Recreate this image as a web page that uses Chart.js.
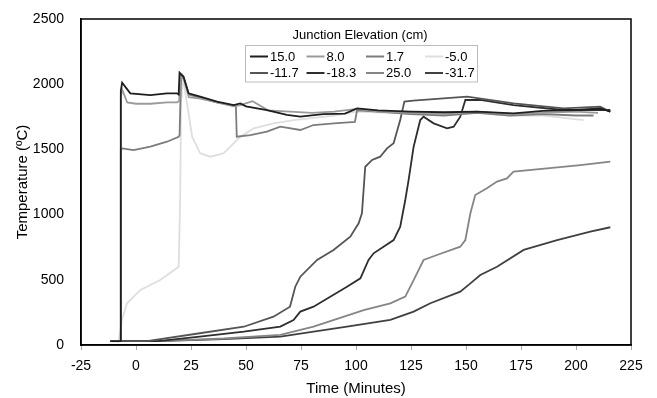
<!DOCTYPE html>
<html>
<head>
<meta charset="utf-8">
<script src="https://cdn.jsdelivr.net/npm/chart.js@4/dist/chart.umd.min.js"></script>
<style>
  html, body { margin: 0; padding: 0; background: #fff; }
  canvas { display: block; }
</style>
</head>
<body>
<canvas id="tempChart" width="657" height="398"></canvas>
<script>
// Junction labels (legend order) and line colours
const labels = ['15.0', '8.0', '1.7', '-5.0', '-11.7', '-18.3', '25.0', '-31.7'];
const colors = ['#1e1e1e', '#9a9a9a', '#7c7c7c', '#dedede', '#555555', '#2e2e2e', '#858585', '#404040'];

// Time (minutes) and temperature (C) for each junction
const t15 = [-11.7, -7.2, -6.9, -6.3, -2.6, 6.5, 14.1, 18.6, 19.4, 19.8, 21.6, 23.9, 29.2, 36.8, 44.4, 47.4, 50, 59.5, 68.6, 74.7, 85, 95, 100.5, 110, 125, 140, 155, 171.6, 185, 200, 211, 215.6];
const v15 = [30, 30, 1950, 2012, 1930, 1917, 1930, 1930, 1920, 2088, 2057, 1930, 1904, 1866, 1840, 1853, 1830, 1802, 1764, 1751, 1770, 1775, 1815, 1800, 1790, 1785, 1790, 1777, 1795, 1802, 1815, 1790];

const t8 = [-11.7, -7.2, -6.9, -6.3, -4, 0, 6.5, 14.1, 18.6, 19.6, 20.2, 21.8, 24, 29.2, 36.8, 44.4, 47.4, 53, 60, 70, 80, 90, 100.5, 110, 125, 140, 155, 170, 185, 200, 210];
const v8 = [30, 30, 1900, 1960, 1860, 1850, 1850, 1860, 1860, 1870, 2060, 2040, 1900, 1890, 1860, 1830, 1840, 1870, 1800, 1790, 1780, 1790, 1810, 1790, 1780, 1770, 1790, 1770, 1780, 1790, 1780];

const t1_7 = [-11.7, -7.2, -6.9, -6.3, -1.1, 6.5, 14.1, 19.4, 19.8, 20.5, 21.5, 24, 29.2, 36.8, 44.4, 45.4, 45.8, 52, 59.5, 65.6, 74.7, 80.7, 90, 99.5, 100.5, 110, 125, 140, 155, 170, 185, 200, 208];
const v1_7 = [30, 30, 1500, 1508, 1495, 1521, 1559, 1597, 1610, 2070, 2060, 1920, 1895, 1860, 1835, 1835, 1597, 1610, 1636, 1674, 1649, 1687, 1700, 1710, 1800, 1790, 1770, 1760, 1780, 1760, 1770, 1760, 1760];

const tm5 = [-11.7, -7.9, -6.4, -4.1, 2, 11, 19.4, 20.1, 20.5, 20.9, 23.2, 25.5, 29.2, 33.8, 39.8, 42.9, 47.4, 53.5, 62.5, 71.6, 80, 90, 100, 115, 130, 150, 170, 185, 203.5];
const vm5 = [30, 25, 192, 320, 422, 498, 600, 1137, 1900, 2083, 1853, 1597, 1470, 1444, 1470, 1521, 1597, 1661, 1700, 1725, 1740, 1760, 1790, 1780, 1770, 1790, 1760, 1760, 1725];

const tm11 = [-11.7, 5, 29, 49, 62.5, 70, 72.4, 74.7, 82.3, 89.8, 97.4, 101.2, 102.7, 104.2, 107.3, 111, 114.1, 117.1, 120.1, 122, 126, 150.5, 171.6, 194.4, 211, 215.6];
const vm11 = [30, 30, 90, 140, 217, 294, 447, 524, 652, 729, 831, 933, 1010, 1367, 1419, 1444, 1508, 1547, 1725, 1866, 1874, 1904, 1853, 1815, 1828, 1789];

const tm18 = [-11.7, 10, 29, 49, 65.6, 71.6, 74.7, 80.7, 95.9, 102, 105.7, 108, 117.1, 120.1, 122.4, 123.9, 126.2, 129.2, 130.7, 135.3, 141.4, 144.4, 147.4, 149.7, 156.5, 171.6, 194.4, 215.6];
const vm18 = [30, 30, 64, 102, 141, 192, 256, 294, 447, 511, 652, 703, 805, 907, 1112, 1265, 1521, 1725, 1751, 1700, 1662, 1674, 1751, 1879, 1879, 1840, 1802, 1802];

const t25 = [-11.7, 10, 40, 65.6, 80.7, 103.5, 115.6, 122.4, 126.2, 130.7, 136.8, 147.4, 149.7, 152, 154.2, 159.5, 164.1, 168.6, 171.6, 186.8, 202, 215.6];
const v25 = [30, 30, 50, 77, 141, 268, 320, 371, 498, 652, 690, 754, 805, 1010, 1150, 1202, 1253, 1278, 1329, 1355, 1380, 1406];

const tm31 = [-11.7, 10, 40, 65.6, 95.9, 115.6, 126.2, 133.8, 147.4, 152, 156.5, 164.1, 176.2, 191.4, 206.5, 215.6];
const vm31 = [30, 30, 45, 64, 141, 192, 256, 320, 409, 473, 537, 600, 729, 805, 869, 903];

const times = [t15, t8, t1_7, tm5, tm11, tm18, t25, tm31];
const temps = [v15, v8, v1_7, vm5, vm11, vm18, v25, vm31];

const font = "'Liberation Sans', Arial, sans-serif";

const datasets = labels.map((lab, i) => ({
  label: lab,
  data: times[i].map((t, j) => ({ x: t, y: temps[i][j] })),
  borderColor: colors[i],
  borderWidth: 1.8,
  pointRadius: 0,
  tension: 0,
  fill: false
}));

// Box round the plot area
const frame = {
  id: 'frame',
  afterDraw(chart) {
    const a = chart.chartArea;
    const c = chart.ctx;
    c.save();
    c.strokeStyle = '#000';
    c.lineWidth = 1.5;
    c.strokeRect(a.left, a.top, a.right - a.left, a.bottom - a.top);
    c.restore();
  }
};

// Legend drawn inside the plot, 4 columns x 2 rows with a title
const boxLegend = {
  id: 'boxLegend',
  afterDraw(chart) {
    const c = chart.ctx;
    const cols = [250, 306.5, 366, 425];
    const rows = [56.5, 73];
    c.save();
    c.fillStyle = '#fff';
    c.fillRect(245.5, 45, 232, 37);
    c.strokeStyle = '#bdbdbd';
    c.lineWidth = 1;
    c.strokeRect(245.5, 45.5, 232, 36.5);
    c.font = '13px ' + font;
    c.fillStyle = '#000';
    c.textAlign = 'center';
    c.textBaseline = 'middle';
    c.fillText('Junction Elevation (cm)', 360, 35);
    c.textAlign = 'left';
    chart.data.datasets.forEach((ds, i) => {
      const x = cols[i % 4];
      const y = rows[Math.floor(i / 4)];
      c.strokeStyle = ds.borderColor;
      c.lineWidth = 2;
      c.beginPath();
      c.moveTo(x, y);
      c.lineTo(x + 18, y);
      c.stroke();
      c.fillStyle = '#000';
      c.fillText(ds.label, x + 20, y + 0.5);
    });
    c.restore();
  }
};

const ctx = document.getElementById('tempChart').getContext('2d');

new Chart(ctx, {
  type: 'line',
  data: { datasets },
  plugins: [frame, boxLegend],
  options: {
    responsive: false,
    animation: false,
    layout: {
      padding: { left: 0, top: 19, right: 26, bottom: 0 }
    },
    plugins: {
      legend: { display: false },
      tooltip: { enabled: false }
    },
    scales: {
      x: {
        type: 'linear',
        min: -25,
        max: 225,
        afterFit: s => { s.height = 53; },
        ticks: {
          stepSize: 25,
          color: '#000',
          padding: 8,
          font: { family: font, size: 14 },
          callback: v => String(v)
        },
        grid: {
          drawOnChartArea: false,
          drawTicks: true,
          tickLength: 5,
          color: '#aaa'
        },
        border: { color: '#000', width: 1.5 },
        title: {
          display: true,
          text: 'Time (Minutes)',
          color: '#000',
          padding: { top: 0, bottom: 0 },
          font: { family: font, size: 15 }
        }
      },
      y: {
        min: 0,
        max: 2500,
        afterFit: s => { s.width = 81; },
        ticks: {
          stepSize: 500,
          color: '#000',
          padding: 9,
          font: { family: font, size: 14 },
          callback: v => String(v)
        },
        grid: { display: false },
        border: { color: '#000', width: 1.5 },
        title: {
          display: true,
          text: 'Temperature (ºC)',
          color: '#000',
          padding: { top: 14, bottom: 0 },
          font: { family: font, size: 15 }
        }
      }
    }
  }
});
</script>
</body>
</html>
